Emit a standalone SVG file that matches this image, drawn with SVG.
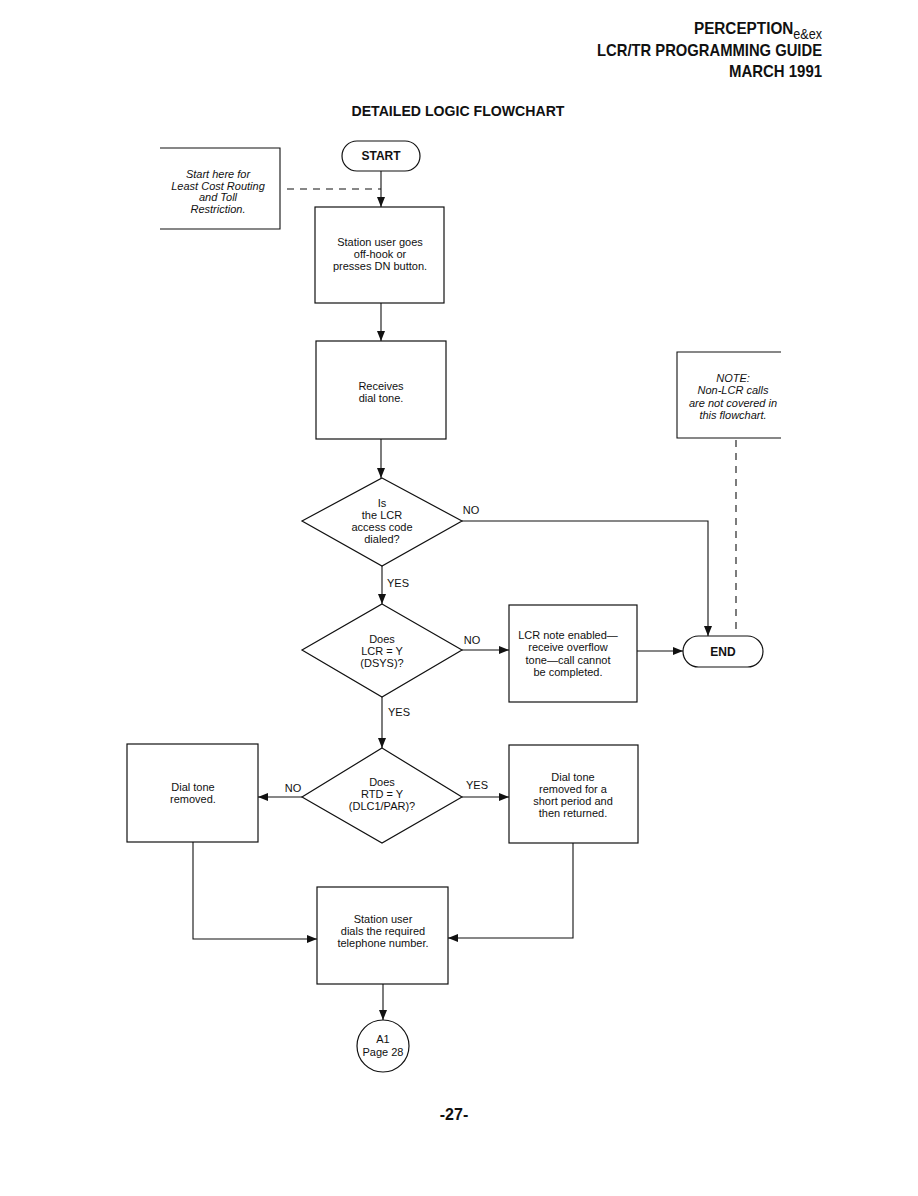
<svg xmlns="http://www.w3.org/2000/svg" width="918" height="1196" viewBox="0 0 918 1196">
<style>
.bg{fill:#fff}
.box{fill:#fff;stroke:#111;stroke-width:1.2}
.ln{fill:none;stroke:#111;stroke-width:1.1}
.dash{fill:none;stroke:#111;stroke-width:1.1;stroke-dasharray:7,6}
.t{font-family:"Liberation Sans",Arial,sans-serif;font-size:11px;fill:#111;text-anchor:middle}
.it{font-style:italic}
.b{font-weight:bold;font-size:12px}
.hd{font-family:"Liberation Sans",Arial,sans-serif;font-weight:bold;font-size:17px;fill:#111;text-anchor:end}
</style>
<defs>
<marker id="ah" markerWidth="10" markerHeight="8" refX="10" refY="4" orient="auto" markerUnits="userSpaceOnUse">
<path d="M0,0 L10,4 L0,8 z" fill="#111"/>
</marker>
</defs>
<rect class="bg" width="918" height="1196"/>

<g id="header">
<text class="hd" transform="translate(822,34) scale(0.9,1)" x="0" y="0">PERCEPTION<tspan font-weight="normal" font-size="14" dy="5">e&amp;ex</tspan></text>
<text class="hd" x="822" y="56" textLength="225" lengthAdjust="spacingAndGlyphs">LCR/TR PROGRAMMING GUIDE</text>
<text class="hd" x="822" y="77" textLength="93" lengthAdjust="spacingAndGlyphs">MARCH 1991</text>
<text x="458" y="116" font-family="'Liberation Sans',Arial,sans-serif" font-weight="bold" font-size="15" fill="#111" text-anchor="middle" textLength="213" lengthAdjust="spacingAndGlyphs">DETAILED LOGIC FLOWCHART</text>
</g>

<g id="connectors">
<path class="dash" d="M287,189 H381"/>
<path class="ln" d="M381,171 V207" marker-end="url(#ah)"/>
<path class="ln" d="M381,303 V341" marker-end="url(#ah)"/>
<path class="ln" d="M381,439 V478" marker-end="url(#ah)"/>
<path class="ln" d="M462,521 H708 V636" marker-end="url(#ah)"/>
<path class="ln" d="M382,566 V604" marker-end="url(#ah)"/>
<path class="ln" d="M462,650 H509" marker-end="url(#ah)"/>
<path class="ln" d="M637,651 H683" marker-end="url(#ah)"/>
<path class="dash" d="M736,440 V632"/>
<path class="ln" d="M382,697 V748" marker-end="url(#ah)"/>
<path class="ln" d="M302,797 H258" marker-end="url(#ah)"/>
<path class="ln" d="M462,797 H509" marker-end="url(#ah)"/>
<path class="ln" d="M193,842 V939 H317" marker-end="url(#ah)"/>
<path class="ln" d="M573,843 V938 H448" marker-end="url(#ah)"/>
<path class="ln" d="M383,984 V1020" marker-end="url(#ah)"/>
<text class="t" x="471" y="514">NO</text>
<text class="t" x="398" y="587">YES</text>
<text class="t" x="472" y="644">NO</text>
<text class="t" x="399" y="716">YES</text>
<text class="t" x="293" y="792">NO</text>
<text class="t" x="477" y="789">YES</text>
</g>

<g id="start">
<rect class="box" x="342" y="141" width="78" height="30" rx="15"/>
<text class="t b" x="381" y="160">START</text>
</g>

<g id="note-start">
<path class="ln" d="M160,148 H280 V229 H160"/>
<text class="t it" x="218" y="178">Start here for</text>
<text class="t it" x="218" y="190">Least Cost Routing</text>
<text class="t it" x="218" y="201">and Toll</text>
<text class="t it" x="218" y="213">Restriction.</text>
</g>

<g id="offhook">
<rect class="box" x="315" y="207" width="129" height="96"/>
<text class="t" x="380" y="246">Station user goes</text>
<text class="t" x="380" y="258">off-hook or</text>
<text class="t" x="380" y="270">presses DN button.</text>
</g>

<g id="dialtone">
<rect class="box" x="316" y="341" width="130" height="98"/>
<text class="t" x="381" y="390">Receives</text>
<text class="t" x="381" y="402">dial tone.</text>
</g>

<g id="d1">
<path class="box" d="M382,478 L462,521 L382,566 L302,521 Z"/>
<text class="t" x="382" y="507">Is</text>
<text class="t" x="382" y="519">the LCR</text>
<text class="t" x="382" y="531">access code</text>
<text class="t" x="382" y="543">dialed?</text>
</g>

<g id="note-nonlcr">
<path class="ln" d="M781,352 H677 V438 H781"/>
<text class="t it" x="733" y="382">NOTE:</text>
<text class="t it" x="733" y="394">Non-LCR calls</text>
<text class="t it" x="733" y="407">are not covered in</text>
<text class="t it" x="733" y="419">this flowchart.</text>
</g>

<g id="d2">
<path class="box" d="M382,604 L462,650 L382,697 L302,650 Z"/>
<text class="t" x="382" y="643">Does</text>
<text class="t" x="382" y="655">LCR = Y</text>
<text class="t" x="382" y="667">(DSYS)?</text>
</g>

<g id="overflow">
<rect class="box" x="509" y="605" width="128" height="97"/>
<text class="t" x="568" y="639">LCR note enabled—</text>
<text class="t" x="568" y="651">receive overflow</text>
<text class="t" x="568" y="664">tone—call cannot</text>
<text class="t" x="568" y="676">be completed.</text>
</g>

<g id="end">
<rect class="box" x="683" y="636" width="80" height="31" rx="15.5"/>
<text class="t b" x="723" y="656">END</text>
</g>

<g id="d3">
<path class="box" d="M382,748 L462,797 L382,843 L302,797 Z"/>
<text class="t" x="382" y="786">Does</text>
<text class="t" x="382" y="798">RTD = Y</text>
<text class="t" x="382" y="810">(DLC1/PAR)?</text>
</g>

<g id="removed">
<rect class="box" x="127" y="744" width="131" height="98"/>
<text class="t" x="193" y="791">Dial tone</text>
<text class="t" x="193" y="803">removed.</text>
</g>

<g id="returned">
<rect class="box" x="509" y="745" width="129" height="98"/>
<text class="t" x="573" y="781">Dial tone</text>
<text class="t" x="573" y="793">removed for a</text>
<text class="t" x="573" y="805">short period and</text>
<text class="t" x="573" y="817">then returned.</text>
</g>

<g id="dials">
<rect class="box" x="317" y="887" width="131" height="97"/>
<text class="t" x="383" y="923">Station user</text>
<text class="t" x="383" y="935">dials the required</text>
<text class="t" x="383" y="947">telephone number.</text>
</g>

<g id="a1">
<circle class="box" cx="383" cy="1046" r="26"/>
<text class="t" x="383" y="1043">A1</text>
<text class="t" x="383" y="1056" font-size="10.5">Page 28</text>
</g>

<text x="454" y="1120" font-family="'Liberation Sans',Arial,sans-serif" font-weight="bold" font-size="16" fill="#111" text-anchor="middle">-27-</text>
</svg>
